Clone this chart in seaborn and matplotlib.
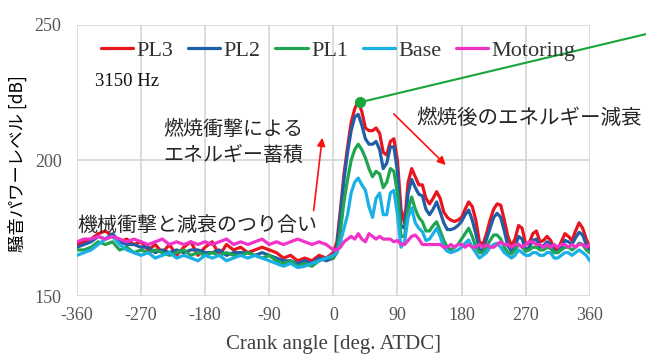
import matplotlib
matplotlib.use("Agg")
import matplotlib.pyplot as plt
import seaborn as sns
import pandas as pd

# ---------------- data ----------------
angles_neg = list(range(-360, 0, 10))
angles_pos = list(range(0, 365, 5))
angles = angles_neg + angles_pos

pl3_neg = [169, 170, 171, 173, 174, 172, 170, 171, 169, 170, 167, 169, 166, 169, 165, 168, 170, 165,
           168, 170, 165, 169, 167, 168, 166, 167, 168, 167, 166, 164, 165, 163, 164, 163, 165, 164]
pl3_pos = [166, 170, 182, 195, 205, 214, 219, 222, 218, 212, 211, 211, 212, 210, 203, 202, 207, 208,
           200, 182, 177, 192, 197, 194, 191, 191, 186, 184, 186, 188.5, 186, 181, 179, 178, 177.5, 178,
           179, 182, 184.7, 183, 178, 170, 169, 173, 178, 182, 184, 183.5, 178, 172, 168.5, 171, 176, 175,
           169, 169.5, 173, 174, 170, 170.5, 172, 170.5, 167.5, 167, 170, 173, 172, 170.5, 174, 177, 175, 171, 168]

pl2_neg = [168, 169, 170, 172, 171, 173, 170, 169, 169, 168, 168, 166, 167, 166, 167, 166, 167, 167,
           166, 166, 167, 165, 166, 166, 166, 165, 166, 165, 164, 163, 163, 162, 163, 162, 164, 163]
pl2_pos = [164, 168, 180, 193, 203, 211, 216, 217, 213, 208, 206, 206, 207, 204, 197, 199, 205, 205,
           196, 176, 175, 188, 193, 190, 187.5, 187, 182, 180, 182, 184.7, 181, 177, 174.5, 174.5, 175, 176,
           177.5, 180, 181.7, 178, 173, 167, 167, 171, 175, 179, 180.5, 179, 174, 168.5, 166.5, 168, 172, 171,
           167, 168, 170.5, 171, 168, 168.5, 170, 169, 166.5, 166, 168, 170.5, 170, 169, 171.5, 173.5, 172.5, 169, 166]

pl1_neg = [167, 167, 168, 170, 169, 170, 167, 168, 166, 167, 166, 167, 166, 165, 166, 167, 165, 166,
           165, 166, 165, 166, 165, 165, 166, 165, 164, 165, 163, 162, 163, 161, 162, 161, 163, 164]
pl1_pos = [164, 166, 174, 185, 193, 200, 204, 206, 204, 201, 197, 194, 196, 195, 190, 192, 197, 196,
           188, 172, 172, 182, 186.5, 182, 179, 177.4, 174, 174, 176, 177.4, 174, 170.5, 168, 167, 168, 169,
           171, 173, 175, 172, 168, 166, 166, 168, 170.5, 172.5, 172.5, 171, 168, 166, 165.5, 167, 169, 168,
           166.5, 167, 168, 168, 167, 167, 168, 167.5, 166, 166, 167, 168, 168, 167, 168, 169.5, 169, 167, 166]

base_neg = [165, 166, 167, 169, 171, 172, 169, 167, 166, 165, 166, 164, 165, 166, 164, 165, 164, 163,
            165, 164, 165, 163, 164, 165, 164, 165, 164, 163, 162, 161, 162, 160.5, 161, 162, 163, 164]
base_pos = [165, 166, 170, 175, 180, 188, 192, 193.5, 191, 189, 183, 179, 186, 188, 180, 180, 188, 189,
            180, 168, 170, 179, 182.5, 177, 175, 173.7, 170.5, 171, 173, 175, 172, 168, 166.5, 166, 166.5, 167,
            168, 169.5, 170.7, 168, 166, 164, 165, 166, 168, 169, 169.5, 168, 166, 165, 164, 165, 167, 166,
            165, 165, 166, 166, 165, 165, 166, 166, 164, 164, 165, 166, 166, 165, 166, 167, 166, 165, 163]

mot_neg = [170, 171, 171, 172, 171, 172, 171, 170, 171, 170, 169, 170, 171, 169, 170, 169, 170, 169,
           170, 169, 170, 171, 169, 170, 169, 170, 171, 169, 170, 169, 170, 171, 170, 169, 170, 169]
mot_pos = [167, 167, 168, 170, 171, 172, 171, 173, 171, 170, 173, 172, 171, 172, 171, 171, 171, 170,
           170.5, 169, 169, 170.5, 172, 172.5, 171, 169, 169, 169, 169, 169, 169, 168, 168, 169, 168, 169,
           169, 168, 169, 168, 168, 169, 168, 169, 168, 168, 169, 170, 169, 169, 168, 169, 169, 168,
           169, 170, 170, 169, 169, 168, 169, 168, 169, 168, 169, 169, 168, 169, 168, 169, 169, 168, 169]

series_names = ["PL3", "PL2", "PL1", "Base", "Motoring"]
series_values = [pl3_neg + pl3_pos, pl2_neg + pl2_pos, pl1_neg + pl1_pos,
                 base_neg + base_pos, mot_neg + mot_pos]
colors = ["#e8141e", "#1f5fa8", "#1fa550", "#1ab0e6", "#f032c8"]

x_ticks = [-360, -270, -180, -90, 0, 90, 180, 270, 360]
y_ticks = [150, 200, 250]
peak_angle, peak_db = 38, 221.5

# ---------------- build table ----------------
rows = []
for name, vals in zip(series_names, series_values):
    for a, v in zip(angles, vals):
        rows.append({"angle": a, "dB": v, "series": name})
df = pd.DataFrame(rows)

sns.set_theme(style="white")
plt.rcParams["font.family"] = ["Liberation Serif", "DejaVu Serif"]
plt.rcParams["axes.unicode_minus"] = False
cjk = ["Noto Sans CJK JP", "DejaVu Sans"]

fig = plt.figure(figsize=(6.46, 3.56), dpi=100)
ax = fig.add_axes([0.119, 0.1685, 0.794, 0.7615])

sns.lineplot(data=df, x="angle", y="dB", hue="series", hue_order=series_names,
             palette=dict(zip(series_names, colors)), linewidth=2.3, ax=ax, legend=True,
             solid_joinstyle="round")

ax.set_xlim(-360, 360)
ax.set_ylim(150, 250)
ax.set_xticks(x_ticks)
ax.set_yticks(y_ticks)
ax.grid(True, color="#d6d6d6", linewidth=1.2)
ax.set_axisbelow(True)
for s in ax.spines.values():
    s.set_visible(False)
ax.tick_params(axis="both", length=0, labelsize=13, colors="#555555")
ax.tick_params(axis="x", pad=8)
ax.tick_params(axis="y", pad=11)

ax.set_xlabel("Crank angle [deg. ATDC]", fontsize=15, color="#404040", labelpad=8)
ax.set_ylabel("騒音パワーレベル [dB]", fontsize=12.5, family=cjk, color="#000000")
ax.yaxis.set_label_coords(-0.097, 0.49)

handles, labels = ax.get_legend_handles_labels()
leg = ax.legend(handles, labels, loc="upper left", bbox_to_anchor=(0.03, 0.975), ncol=5,
                frameon=False, fontsize=16, handlelength=1.45, handletextpad=0.15,
                columnspacing=0.66, borderaxespad=0.0)
for t in leg.get_texts():
    t.set_color("#333333")

ax.text(0.035, 0.79, "3150 Hz", transform=ax.transAxes, fontsize=13.5, color="#111111",
        va="center", ha="left")

# annotations
ax.text(0.168, 0.565, "燃焼衝撃による\nエネルギー蓄積", transform=ax.transAxes, family=cjk,
        fontsize=14.4, va="center", ha="left", linespacing=1.3)
ax.text(0.661, 0.655, "燃焼後のエネルギー減衰", transform=ax.transAxes, family=cjk,
        fontsize=14.8, va="center", ha="left")
ax.text(0.0, 0.262, "機械衝撃と減衰のつり合い", transform=ax.transAxes, family=cjk,
        fontsize=14.4, va="center", ha="left")

ax.annotate("", xy=(0.479, 0.594), xytext=(0.461, 0.305), xycoords="axes fraction",
            arrowprops=dict(arrowstyle="-|>", color="#ff1010", lw=1.2, mutation_scale=12))
ax.annotate("", xy=(0.723, 0.476), xytext=(0.614, 0.679), xycoords="axes fraction",
            arrowprops=dict(arrowstyle="-|>", color="#ff1010", lw=1.2, mutation_scale=12))

ax.plot([peak_angle, 445], [peak_db, 247.0], color="#1aa53a", lw=1.5, clip_on=False, zorder=5)
ax.plot([peak_angle], [peak_db], "o", color="#1aa53a", ms=7, zorder=6, clip_on=False)

fig.savefig("out.png", dpi=100)
